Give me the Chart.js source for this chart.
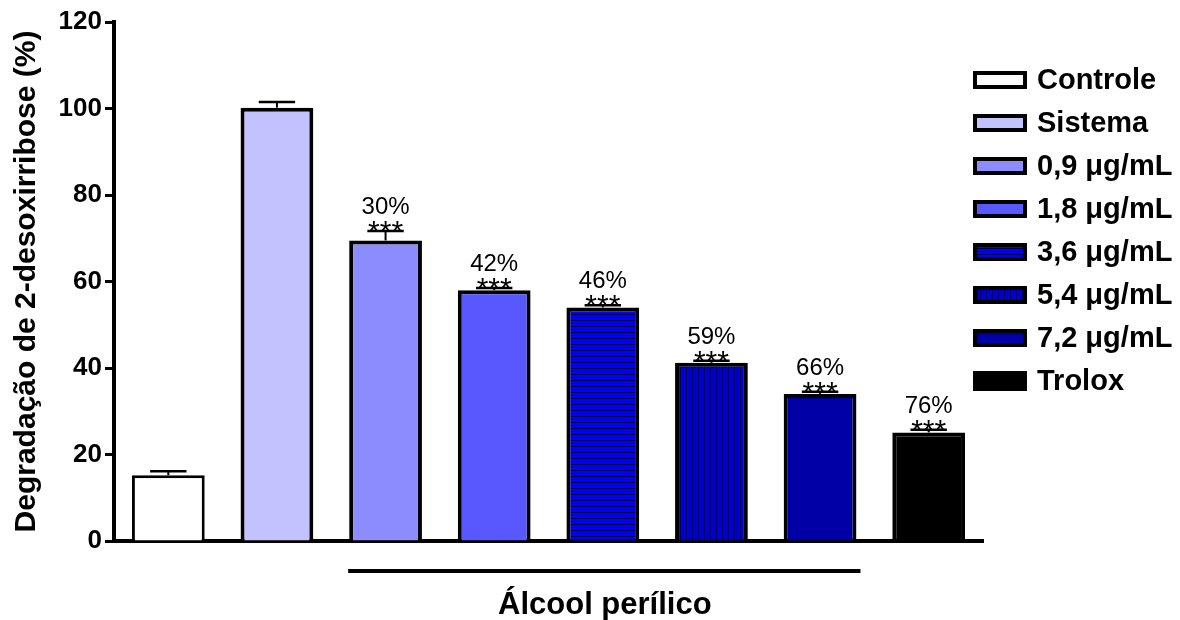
<!DOCTYPE html>
<html><head><meta charset="utf-8">
<script src="https://cdn.jsdelivr.net/npm/chart.js@4/dist/chart.umd.min.js"></script>
<style>html,body{margin:0;padding:0;background:#fff}#wrap{width:1180px;height:620px}</style>
</head><body><div id="wrap"><canvas id="c" width="1180" height="620"></canvas></div>
<script>
// ---- data ----
const categories = ['Controle', 'Sistema', '0,9 μg/mL', '1,8 μg/mL', '3,6 μg/mL', '5,4 μg/mL', '7,2 μg/mL', 'Trolox'];
const values = [15.2, 100.2, 69.5, 58.0, 54.0, 41.2, 34.0, 25.1];
const errors = [0.9, 1.3, 2.2, 0.5, 0.5, 0.5, 0.5, 0.6];
const inhibitionLabels = ['', '', '30%', '42%', '46%', '59%', '66%', '76%'];
const significance = ['', '', '***', '***', '***', '***', '***', '***'];
const yTicks = [0, 20, 40, 60, 80, 100, 120];
const yTitle = 'Degradação de 2-desoxirribose (%)';
const groupLabel = 'Álcool perílico';
const groupStart = 2, groupEnd = 6;

// ---- fills ----
const FONT = '"Liberation Sans", Arial, sans-serif';
function pattern(w, h, bg, draw) {
  const c = document.createElement('canvas'); c.width = w; c.height = h;
  const x = c.getContext('2d'); x.fillStyle = bg; x.fillRect(0, 0, w, h); draw(x);
  return document.getElementById('c').getContext('2d').createPattern(c, 'repeat');
}
const fills = [
  '#ffffff',
  '#c2c2ff',
  '#8c8cff',
  '#5858ff',
  pattern(3, 3, '#0000ff', x => { x.fillStyle = '#00003c'; x.fillRect(0, 2, 3, 1); }),
  pattern(3, 3, '#0000d0', x => { x.fillStyle = '#000060'; x.fillRect(2, 0, 1, 3); }),
  pattern(2, 2, '#000068', x => { x.fillStyle = '#0000aa'; x.fillRect(0, 0, 1, 1); x.fillRect(1, 1, 1, 1); }),
  '#000000'
];
const borderWidths = [3, 4, 4, 4, 4, 4, 4, 4];

// ---- plugins ----
const annotations = {
  id: 'annotations',
  afterDatasetsDraw(chart) {
    const ctx = chart.ctx, meta = chart.getDatasetMeta(0), y = chart.scales.y;
    ctx.save();
    meta.data.forEach((bar, i) => {
      const top = y.getPixelForValue(values[i]);
      const cap = y.getPixelForValue(values[i] + errors[i]);
      const half = bar.width / 4;
      ctx.strokeStyle = '#000'; ctx.lineWidth = 2;
      ctx.beginPath(); ctx.moveTo(bar.x, top); ctx.lineTo(bar.x, cap); ctx.stroke();
      ctx.lineWidth = 2.5;
      ctx.beginPath(); ctx.moveTo(bar.x - half, cap); ctx.lineTo(bar.x + half, cap); ctx.stroke();
      ctx.fillStyle = '#000'; ctx.textAlign = 'center'; ctx.textBaseline = 'alphabetic';
      if (significance[i]) { ctx.font = '30px ' + FONT; ctx.fillText(significance[i], bar.x, cap + 10); }
      if (inhibitionLabels[i]) { ctx.font = '24px ' + FONT; ctx.fillText(inhibitionLabels[i], bar.x, cap - 17); }
    });
    // group bracket
    const a = meta.data[groupStart], b = meta.data[groupEnd];
    ctx.lineWidth = 4; ctx.beginPath();
    ctx.moveTo(a.x - a.width / 2 - 1, 571); ctx.lineTo(b.x + b.width / 2 + 4, 571); ctx.stroke();
    ctx.font = 'bold 31px ' + FONT; ctx.textBaseline = 'middle';
    ctx.fillText(groupLabel, (a.x - a.width / 2 + b.x + b.width / 2) / 2 + 2, 605);
    ctx.restore();
  },
  afterDraw(chart) {
    const ctx = chart.ctx;
    ctx.save();
    categories.forEach((label, i) => {
      const cy = 80 + i * 43;
      ctx.fillStyle = fills[i];
      ctx.fillRect(973, cy - 9, 54, 18);
      if (i !== categories.length - 1) {
        ctx.strokeStyle = '#000'; ctx.lineWidth = 4;
        ctx.strokeRect(975, cy - 7, 50, 14);
      } else {
        ctx.fillStyle = '#000'; ctx.fillRect(973, cy - 10, 54, 20);
      }
      ctx.fillStyle = '#000'; ctx.font = 'bold 29px ' + FONT;
      ctx.textAlign = 'left'; ctx.textBaseline = 'middle';
      ctx.fillText(label, 1037, cy + 1);
    });
    ctx.restore();
  }
};

new Chart(document.getElementById('c'), {
  type: 'bar',
  data: {
    labels: categories,
    datasets: [{
      data: values,
      backgroundColor: fills,
      borderColor: '#000',
      borderWidth: borderWidths,
      barPercentage: 0.67,
      categoryPercentage: 1.0
    }]
  },
  options: {
    responsive: false,
    devicePixelRatio: 1,
    animation: false,
    layout: { padding: { top: 22, right: 197, bottom: 0, left: 0 } },
    plugins: { legend: { display: false }, tooltip: { enabled: false } },
    scales: {
      x: {
        grid: { display: false },
        ticks: { display: false },
        border: { display: true, color: '#000', width: 4 },
        afterFit(s) { s.height = 79; }
      },
      y: {
        min: 0, max: 120,
        afterBuildTicks(s) { s.ticks = yTicks.map(v => ({ value: v })); },
        ticks: { color: '#000', padding: 3, font: { family: FONT, size: 26, weight: 'bold' } },
        grid: { drawOnChartArea: false, drawTicks: true, tickLength: 9, tickWidth: 3, tickColor: '#000', color: '#000' },
        border: { display: true, color: '#000', width: 4 },
        title: { display: true, text: yTitle, color: '#000', padding: { top: 9, bottom: 0 }, font: { family: FONT, size: 30, weight: 'bold' } },
        afterFit(s) { s.width = 114; }
      }
    }
  },
  plugins: [annotations]
});
</script>
</body></html>
